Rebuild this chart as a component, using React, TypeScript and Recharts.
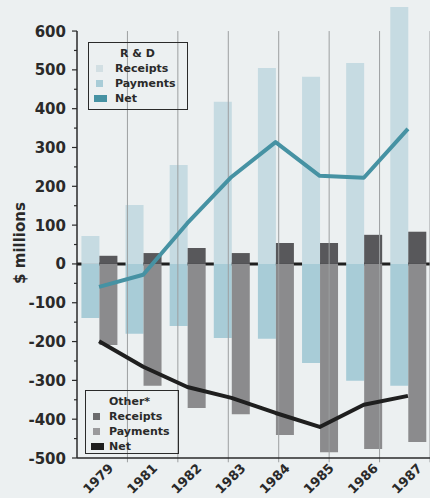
import React from 'react';
import {
  ComposedChart, Bar, Line, XAxis, YAxis, ReferenceLine, Label, CartesianGrid,
} from 'recharts';

// values ($ millions)
const YEARS = ['1979', '1981', '1982', '1983', '1984', '1985', '1986', '1987'];
const RD_RECEIPTS = [72, 152, 255, 418, 505, 482, 518, 662];
const RD_PAYMENTS = [-139, -180, -160, -191, -193, -255, -301, -314];
const RD_NET = [-59, -28, 105, 224, 314, 227, 222, 348];
const OTHER_RECEIPTS = [21, 28, 41, 28, 54, 54, 75, 83];
const OTHER_PAYMENTS = [-209, -314, -371, -387, -441, -485, -477, -459];
const OTHER_NET = [-199, -265, -317, -345, -384, -420, -363, -340];

const MAJOR_TICKS = [-500, -400, -300, -200, -100, 0, 100, 200, 300, 400, 500, 600];
const MINOR_TICKS = [-450, -350, -250, -150, -50, 50, 150, 250, 350, 450, 550];
const BOUNDARIES = [1, 2, 3, 4, 5, 6, 7, 8];
const Y_DOMAIN: [number, number] = [-500, 680];

const COLORS = {
  bg: '#ecf0f1',
  rdReceipts: '#c6dbe2',
  rdPayments: '#a8ccd7',
  rdNet: '#4692a3',
  otherReceipts: '#58585b',
  otherPayments: '#8b8b8d',
  otherNet: '#1f1f1f',
  ink: '#2a2a2a',
  grid: '#9c9fa0',
};

const FONT = '"DejaVu Sans", sans-serif';

const data = YEARS.map((year, i) => ({
  year,
  rdReceipts: RD_RECEIPTS[i],
  rdPayments: RD_PAYMENTS[i],
  rdNet: RD_NET[i],
  otherReceipts: OTHER_RECEIPTS[i],
  otherPayments: OTHER_PAYMENTS[i],
  otherNet: OTHER_NET[i],
}));

const YTick = ({ x, y, payload }: any) => {
  const major = payload.value % 100 === 0;
  return (
    <g>
      <line x1={x - (major ? 5 : 3)} x2={x} y1={y} y2={y} stroke={COLORS.ink} strokeWidth={1.2} />
      {major && (
        <text x={x - 11} y={y} dy={5.5} textAnchor="end" fontFamily={FONT} fontWeight="bold"
          fontSize={15} fill={COLORS.ink}>
          {payload.value}
        </text>
      )}
    </g>
  );
};

const XTick = ({ x, y, payload }: any) => {
  const tx = x + 15;
  const ty = y + 11;
  return (
    <text x={tx} y={ty} textAnchor="end" transform={`rotate(-45, ${tx}, ${ty})`}
      fontFamily={FONT} fontWeight="bold" fontSize={13} fill={COLORS.ink}>
      {payload.value}
    </text>
  );
};

// zero line as a grid row so it sits underneath the bars
const zeroRow = ({ offset }: any) => {
  const [lo, hi] = Y_DOMAIN;
  return [offset.top + (offset.height * hi) / (hi - lo)];
};

type LegendItem = { label: string; color: string; wide?: boolean };

const LegendBox = ({ title, items, left, top, width, height, titleLeft, textLeft }: {
  title: string; items: LegendItem[]; left: number; top: number; width: number; height: number;
  titleLeft: number; textLeft: number;
}) => (
  <div style={{
    position: 'absolute', left, top, width, height, boxSizing: 'border-box',
    border: `1.5px solid ${COLORS.ink}`, fontFamily: FONT, fontWeight: 'bold', fontSize: 11,
    color: COLORS.ink,
  }}>
    <div style={{ position: 'absolute', left: titleLeft, top: 3, lineHeight: '15px' }}>{title}</div>
    {items.map((it, i) => (
      <div key={it.label} style={{ position: 'absolute', left: 0, top: 18 + i * 15, height: 15, width: '100%' }}>
        <span style={{
          position: 'absolute', left: it.wide ? 5 : 7, top: 4, width: it.wide ? 13 : 7, height: 7,
          background: it.color,
        }} />
        <span style={{ position: 'absolute', left: textLeft, top: 0, lineHeight: '15px' }}>{it.label}</span>
      </div>
    ))}
  </div>
);

const RD_LEGEND: LegendItem[] = [
  { label: 'Receipts', color: '#d2dfe3' },
  { label: 'Payments', color: COLORS.rdPayments },
  { label: 'Net', color: COLORS.rdNet, wide: true },
];
const OTHER_LEGEND: LegendItem[] = [
  { label: 'Receipts', color: '#6a6a6c' },
  { label: 'Payments', color: '#9a9a9c' },
  { label: 'Net', color: COLORS.otherNet, wide: true },
];

export default function App() {
  return (
    <div style={{ position: 'fixed', left: 0, top: 0, width: 430, height: 498, background: COLORS.bg, overflow: 'hidden' }}>
      <ComposedChart width={430} height={498} data={data} stackOffset="sign"
        margin={{ top: 0, right: 0, bottom: 0, left: 0 }} barCategoryGap="10%" barGap={0}>
        <CartesianGrid vertical={false} horizontalCoordinatesGenerator={zeroRow}
          stroke={COLORS.otherNet} strokeWidth={3} />
        <XAxis dataKey="year" height={40} tickLine={false} tickSize={0} tickMargin={0}
          axisLine={{ stroke: COLORS.ink, strokeWidth: 1.5 }} tick={<XTick />} interval={0} />
        <XAxis xAxisId="grid" type="number" domain={[0, 8]} hide allowDataOverflow />
        <YAxis width={77} domain={Y_DOMAIN} allowDataOverflow
          ticks={[...MAJOR_TICKS, ...MINOR_TICKS]} tick={<YTick />} tickLine={false}
          tickSize={0} tickMargin={0} axisLine={false} interval={0}>
          <Label content={() => (
            <text x={0} y={0} transform="translate(25, 243) rotate(-90)" textAnchor="middle"
              fontFamily={FONT} fontWeight="bold" fontSize={15} fill={COLORS.ink}>
              $ millions
            </text>
          )} />
        </YAxis>

        {BOUNDARIES.map((b) => (
          <ReferenceLine key={b} xAxisId="grid" ifOverflow="visible"
            segment={[{ x: b, y: -511 }, { x: b, y: 600 }]} stroke={COLORS.grid} strokeWidth={1} />
        ))}
        <ReferenceLine xAxisId="grid" ifOverflow="visible"
          segment={[{ x: 0, y: -500 }, { x: 0, y: 600 }]} stroke={COLORS.ink} strokeWidth={1.5} />

        <Bar dataKey="rdReceipts" stackId="rd" fill={COLORS.rdReceipts} isAnimationActive={false} />
        <Bar dataKey="rdPayments" stackId="rd" fill={COLORS.rdPayments} isAnimationActive={false} />
        <Bar dataKey="otherReceipts" stackId="other" fill={COLORS.otherReceipts} isAnimationActive={false} />
        <Bar dataKey="otherPayments" stackId="other" fill={COLORS.otherPayments} isAnimationActive={false} />

        <Line dataKey="rdNet" type="linear" stroke={COLORS.rdNet} strokeWidth={4} dot={false}
          strokeLinejoin="round" isAnimationActive={false} />
        <Line dataKey="otherNet" type="linear" stroke={COLORS.otherNet} strokeWidth={4} dot={false}
          strokeLinejoin="round" isAnimationActive={false} />
      </ComposedChart>

      <LegendBox title="R & D" items={RD_LEGEND} left={88} top={42} width={100} height={68}
        titleLeft={31} textLeft={26} />
      <LegendBox title="Other*" items={OTHER_LEGEND} left={85} top={390} width={94} height={64}
        titleLeft={23} textLeft={23} />
    </div>
  );
}
